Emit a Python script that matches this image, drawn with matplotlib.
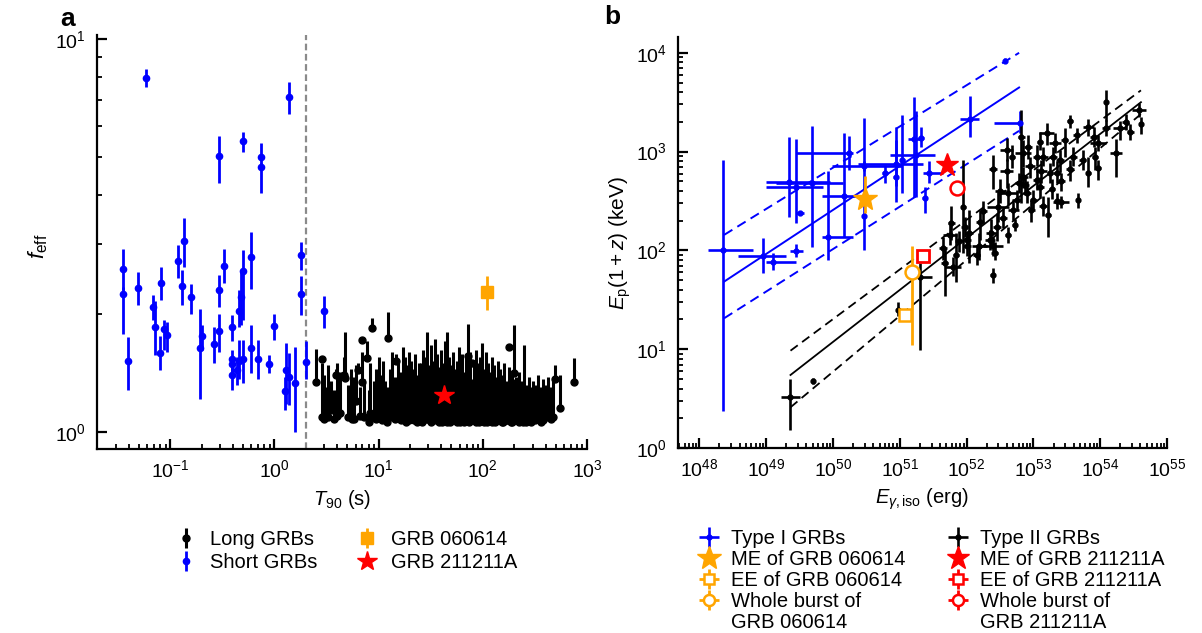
import numpy as np
import matplotlib
matplotlib.use('Agg')
import matplotlib.pyplot as plt
from matplotlib.lines import Line2D
from matplotlib.ticker import LogLocator, NullFormatter

plt.rcParams['font.family'] = ['Liberation Sans', 'DejaVu Sans']
plt.rcParams['mathtext.fontset'] = 'custom'
plt.rcParams['mathtext.rm'] = 'Liberation Sans'
plt.rcParams['mathtext.it'] = 'Liberation Sans:italic'
plt.rcParams['mathtext.bf'] = 'Liberation Sans:bold'

# ---------------- Panel a data ----------------
short_T = [0.0587, 1.39, 0.494, 0.294, 0.736, 0.75, 0.0355, 0.0355, 0.039, 0.049,
           0.068, 0.072, 0.079, 0.082, 0.088, 0.092, 0.118, 0.129, 0.136, 0.157,
           0.195, 0.203, 0.265, 0.296, 0.296, 0.326, 0.393, 0.393, 0.393, 0.393,
           0.44, 0.46, 0.48, 0.494, 0.46, 0.494, 0.59, 0.59, 0.69, 0.887,
           1.0, 1.25, 1.29, 1.39, 1.58, 1.78, 1.78, 2.0, 2.97]
short_f = [7.96, 7.11, 5.49, 5.04, 5.00, 4.73, 2.60, 2.24, 1.52, 2.33,
           2.08, 1.85, 1.59, 2.40, 1.83, 1.76, 2.72, 2.35, 3.06, 2.20,
           1.64, 1.75, 1.67, 2.30, 1.81, 2.65, 1.85, 1.53, 1.49, 1.40,
           1.44, 2.03, 2.20, 2.57, 1.52, 1.53, 2.78, 1.64, 1.53, 1.49,
           1.86, 1.27, 1.44, 1.38, 1.33, 2.82, 2.24, 1.51, 2.03]
short_lo = [7.55, 6.43, 5.15, 4.31, 4.73, 4.05, 2.30, 1.78, 1.28, 2.10,
            1.93, 1.57, 1.44, 2.17, 1.62, 1.60, 2.46, 2.11, 2.63, 2.00,
            1.21, 1.62, 1.50, 2.08, 1.60, 2.39, 1.70, 1.44, 1.41, 1.28,
            1.32, 1.85, 1.87, 1.93, 1.36, 1.33, 2.31, 1.41, 1.36, 1.41,
            1.71, 1.14, 1.18, 1.17, 1.00, 2.58, 1.99, 1.36, 1.84]
short_hi = [8.39, 7.79, 5.81, 5.67, 5.43, 4.83, 2.92, 2.34, 1.74, 2.56,
            2.23, 2.15, 1.75, 2.63, 1.93, 1.91, 2.99, 2.59, 3.50, 2.38,
            2.06, 1.87, 1.85, 2.51, 2.00, 2.92, 1.99, 1.62, 1.55, 1.50,
            1.55, 2.30, 2.58, 2.90, 1.71, 1.71, 3.23, 1.87, 1.71, 1.57,
            2.00, 1.38, 1.68, 1.59, 1.65, 3.05, 2.49, 1.70, 2.22]

long_T = [2.5, 2.85, 2.85, 3.0, 3.1, 3.3, 3.5, 3.7, 3.9, 4.0,
          4.3, 4.6, 4.8, 5.1, 5.4, 5.8, 6.1, 6.4, 6.9, 7.0,
          7.3, 7.8, 8.2, 8.7, 9.0, 9.5, 10.0, 10.5, 11.0, 11.5,
          12.2, 12.8, 13.5, 14.2, 14.8, 15.5, 16.3, 17.0, 17.8, 18.6,
          19.5, 20.4, 21.3, 22.3, 23.3, 24.4, 25.5, 26.6, 27.8, 29.0,
          30.3, 31.7, 33.1, 34.6, 36.1, 37.7, 39.4, 41.2, 43.0, 45.0,
          47.0, 49.1, 51.3, 53.6, 56.0, 58.5, 61.1, 63.8, 66.7, 69.6,
          72.7, 72.7, 76.0, 79.4, 82.9, 86.6, 90.5, 94.5, 98.7, 103,
          108, 113, 118, 123, 129, 134, 140, 147, 153, 160,
          167, 177, 180, 190, 201, 210, 222, 235, 250, 262,
          275, 290, 305, 320, 342, 360, 380, 400, 427, 450,
          470, 495, 553, 754,
          14.5, 16.0, 18.2, 20.0, 22.0, 24.0, 26.0, 28.5, 31.0, 33.8,
          35.4, 38.5, 40.3, 44.0, 48.0, 50.2, 52.4, 55.0, 57.3, 60.0,
          65.2, 68.0, 71.0, 74.3, 77.7, 81.0, 84.7, 88.5, 92.5, 96.6,
          105, 110, 115, 121, 126, 131, 137, 143, 150, 157,
          163, 172, 185, 195, 205, 215, 228, 242, 256, 268,
          5.6, 6.6, 8.0, 9.3, 10.8, 12.0]
long_f = [1.34, 1.53, 1.09, 1.08, 1.12, 1.09, 1.14, 1.08, 1.40, 1.10,
          1.12, 1.40, 1.37, 1.09, 1.11, 1.08, 1.20, 1.44, 1.71, 1.34,
          1.09, 1.54, 1.12, 1.84, 1.10, 1.08, 1.12, 1.09, 1.11, 1.10,
          1.73, 1.09, 1.12, 1.08, 1.52, 1.10, 1.07, 1.11, 1.09, 1.13,
          1.07, 1.10, 1.08, 1.12, 1.06, 1.09, 1.10, 1.07, 1.12, 1.08,
          1.10, 1.06, 1.11, 1.08, 1.09, 1.06, 1.12, 1.07, 1.09, 1.06,
          1.10, 1.07, 1.11, 1.08, 1.06, 1.10, 1.07, 1.09, 1.06, 1.11,
          1.08, 1.56, 1.07, 1.50, 1.09, 1.06, 1.10, 1.07, 1.08, 1.06,
          1.10, 1.07, 1.09, 1.06, 1.08, 1.11, 1.07, 1.09, 1.06, 1.08,
          1.07, 1.65, 1.09, 1.06, 1.41, 1.08, 1.06, 1.09, 1.07, 1.06,
          1.08, 1.06, 1.09, 1.07, 1.08, 1.06, 1.07, 1.09, 1.10, 1.08,
          1.09, 1.36, 1.15, 1.34,
          1.10, 1.08, 1.06, 1.09, 1.07, 1.10, 1.06, 1.09, 1.07, 1.10,
          1.07, 1.09, 1.06, 1.08, 1.06, 1.09, 1.07, 1.10, 1.08, 1.06,
          1.09, 1.07, 1.10, 1.06, 1.08, 1.10, 1.07, 1.09, 1.06, 1.10,
          1.08, 1.06, 1.10, 1.07, 1.09, 1.06, 1.10, 1.07, 1.08, 1.06,
          1.09, 1.07, 1.06, 1.09, 1.07, 1.10, 1.08, 1.06, 1.08, 1.07,
          1.08, 1.10, 1.06, 1.09, 1.07, 1.06]
long_top = [1.63, 1.53, 1.50, 1.40, 1.30, 1.48, 1.35, 1.28, 1.45, 1.50,
            1.42, 1.55, 1.80, 1.32, 1.45, 1.38, 1.48, 1.50, 1.73, 1.60,
            1.36, 1.70, 1.50, 1.95, 1.35, 1.45, 1.55, 1.40, 1.52, 1.35,
            2.02, 1.45, 1.60, 1.38, 1.58, 1.50, 1.42, 1.65, 1.55, 1.48,
            1.60, 1.52, 1.45, 1.58, 1.40, 1.50, 1.50, 1.62, 1.55, 1.80,
            1.48, 1.66, 1.52, 1.72, 1.58, 1.46, 1.62, 1.50, 1.70, 1.80,
            1.55, 1.48, 1.60, 1.45, 1.52, 1.65, 1.50, 1.58, 1.42, 1.55,
            1.88, 1.56, 1.60, 1.52, 1.48, 1.62, 1.50, 1.55, 1.68, 1.45,
            1.60, 1.50, 1.42, 1.55, 1.48, 1.38, 1.52, 1.45, 1.40, 1.50,
            1.35, 1.65, 1.46, 1.40, 1.87, 1.38, 1.42, 1.35, 1.66, 1.32,
            1.38, 1.30, 1.35, 1.32, 1.40, 1.30, 1.36, 1.32, 1.38, 1.30,
            1.35, 1.48, 1.40, 1.54,
            1.30, 1.25, 1.35, 1.28, 1.32, 1.30, 1.27, 1.33, 1.36, 1.28,
            1.34, 1.30, 1.38, 1.32, 1.28, 1.36, 1.30, 1.34, 1.40, 1.30,
            1.32, 1.38, 1.30, 1.34, 1.28, 1.36, 1.30, 1.40, 1.33, 1.30,
            1.36, 1.30, 1.34, 1.28, 1.32, 1.36, 1.30, 1.34, 1.28, 1.32,
            1.30, 1.34, 1.28, 1.32, 1.36, 1.30, 1.26, 1.32, 1.30, 1.28,
            1.25, 1.30, 1.28, 1.32, 1.26, 1.30]

grb060614_T, grb060614_f, grb060614_lo, grb060614_hi = 108.7, 2.27, 2.04, 2.50
grb211211_T, grb211211_f = 42.8, 1.24
T90_divide = 2.0

# ---------------- Panel b data (log10 values) ----------------
t1_logE = [48.355, 48.945, 49.10, 49.44, 49.50, 49.34, 49.45, 49.69, 49.93, 50.16,
           50.24, 50.47, 50.47, 50.78, 50.94, 50.95, 51.04, 51.21, 51.25, 51.32,
           51.37, 51.44, 52.05, 52.80, 52.57]
t1_logEp = [2.00, 1.944, 1.887, 1.995, 2.383, 2.697, 2.646, 2.687, 2.14, 2.552,
            2.984, 2.856, 2.35, 2.788, 2.741, 2.876, 2.917, 3.126, 2.967, 3.136,
            2.529, 2.788, 3.33, 3.288, 3.92]
t1_logE_lo = [48.13, 48.58, 49.00, 49.35, 49.45, 49.00, 49.00, 49.15, 49.83, 49.83,
              49.45, 49.98, 50.44, 50.74, 50.90, 50.38, 51.00, 51.12, 50.85, 51.28,
              51.33, 51.35, 51.90, 52.41, 52.55]
t1_logE_hi = [48.80, 49.30, 49.45, 49.55, 49.57, 49.95, 49.85, 50.15, 50.30, 50.45,
              50.30, 51.03, 50.50, 50.82, 50.98, 51.35, 51.08, 51.33, 51.52, 51.36,
              51.41, 51.65, 52.19, 52.80, 52.59]
t1_logEp_lo = [0.378, 1.769, 1.80, 1.937, 2.36, 2.342, 2.28, 2.03, 1.90, 2.14,
               2.815, 2.80, 2.005, 2.68, 2.49, 2.65, 2.58, 2.545, 2.545, 3.05,
               2.377, 2.68, 3.15, 3.19, 3.90]
t1_logEp_hi = [2.916, 2.124, 1.975, 2.066, 2.40, 3.152, 3.126, 3.26, 2.80, 3.193,
               3.16, 2.90, 3.34, 2.866, 3.25, 3.12, 3.37, 3.55, 3.406, 3.25,
               2.646, 2.90, 3.56, 3.41, 3.95]

t2_logE = [54.09, 54.58, 54.61, 54.29, 54.23, 54.09, 53.97, 53.92, 53.97, 53.82,
           53.82, 53.74, 53.65, 53.67, 53.55, 53.47, 53.40, 53.32, 53.35, 53.42,
           53.42, 53.20, 53.22, 53.15, 53.25, 53.05, 53.00, 52.97, 53.10, 52.85,
           52.85, 52.90, 52.82, 52.75, 52.70, 52.60, 52.62, 52.47, 52.45, 52.72,
           52.62, 52.37, 52.35, 52.39, 52.42, 52.39, 52.20, 52.19, 52.04, 52.01,
           51.95, 51.97, 52.00, 51.84, 51.77, 51.75, 51.80, 51.67, 51.31, 50.97,
           49.70, 49.36, 52.95, 53.05, 52.88, 53.12, 52.78, 53.28, 53.55, 53.60,
           53.30, 52.92, 52.68, 52.50, 52.25, 51.88, 51.64, 52.15, 52.55, 53.35,
           53.15, 53.90, 54.38, 54.45, 53.10, 52.60, 52.40]
t2_logEp = [3.507, 3.42, 3.28, 3.24, 2.99, 3.24, 3.085, 2.95, 2.83, 3.254,
            2.78, 2.916, 3.17, 2.51, 3.314, 3.12, 2.916, 3.085, 2.78, 2.70,
            2.494, 3.187, 2.36, 2.95, 2.78, 2.71, 2.51, 2.41, 2.646, 2.984,
            2.747, 2.58, 3.15, 2.51, 2.41, 2.80, 2.58, 2.44, 2.24, 2.26,
            2.157, 2.174, 2.106, 2.04, 1.97, 1.75, 2.29, 2.04, 2.174, 2.04,
            2.44, 2.24, 2.106, 1.955, 2.276, 2.157, 1.836, 1.87, 1.735, 1.40,
            0.68, 0.52, 2.85, 2.95, 2.66, 2.80, 2.68, 2.62, 2.82, 2.95,
            2.95, 3.05, 2.95, 2.60, 2.40, 2.10, 2.02, 1.95, 2.33, 2.50,
            2.45, 3.15, 3.30, 3.20, 3.10, 3.02, 2.82]
t2_dlogE = [0.00, 0.10, 0.00, 0.10, 0.09, 0.06, 0.12, 0.04, 0.04, 0.08,
            0.04, 0.05, 0.05, 0.02, 0.05, 0.05, 0.06, 0.09, 0.06, 0.05,
            0.12, 0.11, 0.04, 0.07, 0.05, 0.06, 0.05, 0.05, 0.06, 0.12,
            0.07, 0.06, 0.05, 0.07, 0.08, 0.10, 0.14, 0.16, 0.06, 0.04,
            0.05, 0.08, 0.08, 0.15, 0.05, 0.04, 0.06, 0.11, 0.06, 0.06,
            0.04, 0.05, 0.06, 0.05, 0.05, 0.11, 0.12, 0.05, 0.17, 0.03,
            0.00, 0.14, 0.08, 0.06, 0.05, 0.08, 0.06, 0.05, 0.06, 0.05,
            0.06, 0.06, 0.05, 0.08, 0.05, 0.05, 0.06, 0.05, 0.06, 0.04,
            0.06, 0.05, 0.05, 0.05, 0.05, 0.10, 0.06]
t2_dlogEp_lo = [0.20, 0.07, 0.10, 0.12, 0.25, 0.08, 0.08, 0.14, 0.12, 0.10,
                0.14, 0.10, 0.08, 0.08, 0.08, 0.17, 0.12, 0.10, 0.10, 0.10,
                0.06, 0.12, 0.22, 0.10, 0.10, 0.10, 0.10, 0.12, 0.12, 0.14,
                0.12, 0.10, 0.67, 0.10, 0.10, 0.17, 0.12, 0.15, 0.14, 0.06,
                0.08, 0.14, 0.10, 0.10, 0.07, 0.08, 0.18, 0.14, 0.30, 0.10,
                0.47, 0.10, 0.08, 0.27, 0.17, 0.10, 0.10, 0.33, 0.745, 0.06,
                0.03, 0.34, 0.12, 0.10, 0.10, 0.12, 0.10, 0.10, 0.12, 0.10,
                0.10, 0.12, 0.12, 0.12, 0.12, 0.12, 0.12, 0.10, 0.10, 0.08,
                0.10, 0.10, 0.08, 0.08, 0.08, 0.12, 0.20]
t2_dlogEp_hi = [0.12, 0.07, 0.07, 0.07, 0.14, 0.08, 0.08, 0.10, 0.08, 0.08,
                0.17, 0.10, 0.07, 0.07, 0.06, 0.12, 0.10, 0.10, 0.12, 0.08,
                0.06, 0.10, 0.18, 0.10, 0.10, 0.12, 0.10, 0.10, 0.10, 0.13,
                0.10, 0.12, 0.27, 0.10, 0.10, 0.13, 0.10, 0.15, 0.14, 0.06,
                0.08, 0.14, 0.10, 0.10, 0.12, 0.07, 0.12, 0.14, 0.24, 0.10,
                0.47, 0.10, 0.08, 0.22, 0.17, 0.10, 0.10, 0.15, 0.135, 0.08,
                0.03, 0.18, 0.10, 0.12, 0.10, 0.12, 0.10, 0.10, 0.10, 0.10,
                0.10, 0.12, 0.12, 0.12, 0.10, 0.10, 0.12, 0.10, 0.10, 0.08,
                0.10, 0.10, 0.08, 0.08, 0.10, 0.12, 0.15]

# fitted correlations (log10 E_iso, log10 Ep) at line ends
fit1_logE = [48.37, 52.786]
fit1_mid = [1.684, 3.649]
fit1_up = [2.157, 4.00]
fit1_dn = [1.313, 3.21]
fit2_logE = [49.364, 54.61]
fit2_mid = [0.739, 3.50]
fit2_up = [0.985, 3.62]
fit2_dn = [0.412, 3.38]

# GRB 060614 (orange) and GRB 211211A (red): log E, log Ep
me060614 = (50.475, 2.518, 2.377, 2.754)
ee060614 = (51.075, 1.347, 51.19)
wb060614 = (51.19, 1.785, 1.043, 2.045)
me211211 = (51.71, 2.866)
ee211211 = (51.35, 1.944)
wb211211 = (51.86, 2.63)

BLUE = '#0000ff'
ORANGE = '#ffa500'
RED = '#ff0000'

W, H = 1202, 633
fig = plt.figure(figsize=(W / 100, H / 100), dpi=100)


def px_axes(l, r, t, b):
    return [l / W, 1 - b / H, (r - l) / W, (b - t) / H]


def style_axes(ax):
    for s in ['top', 'right']:
        ax.spines[s].set_visible(False)
    for s in ['left', 'bottom']:
        ax.spines[s].set_linewidth(1.6)
    ax.tick_params(which='major', direction='in', length=7, width=1.6,
                   labelsize=14, pad=8)
    ax.tick_params(which='minor', direction='in', length=3.5, width=1.3)
    ax.tick_params(axis='x', which='major', pad=7)


# ---------------- Panel a ----------------
ax1 = fig.add_axes(px_axes(97, 587, 35, 449))
ax1.set_xscale('log')
ax1.set_yscale('log')

sT = np.array(short_T); sf = np.array(short_f)
h_short = ax1.errorbar(sT, sf, yerr=[sf - np.array(short_lo), np.array(short_hi) - sf],
                       fmt='o', color=BLUE, ms=4.5, elinewidth=2, capsize=0, zorder=3)
lT = np.array(long_T); lf = np.array(long_f); lt = np.array(long_top)
h_long = ax1.errorbar(lT, lf, yerr=[np.zeros_like(lf), np.maximum(lt - lf, 0)],
                      fmt='o', color='black', ms=5, elinewidth=2.2, capsize=0, zorder=3)
ax1.axvline(T90_divide, color='#8a8a8a', lw=1.6, ls='--', dashes=(3, 1.6), zorder=2)
h_o = ax1.errorbar([grb060614_T], [grb060614_f],
                   yerr=[[grb060614_f - grb060614_lo], [grb060614_hi - grb060614_f]],
                   fmt='s', color=ORANGE, ms=8, elinewidth=2, capsize=0, zorder=4)
h_r, = ax1.plot([grb211211_T], [grb211211_f], marker='*', color=RED, ms=15,
                ls='none', zorder=5)

ax1.set_xlim(0.0198, 1000)
ax1.set_ylim(0.905, 10.24)
ax1.xaxis.set_major_locator(LogLocator(base=10, numticks=20))
ax1.xaxis.set_minor_locator(LogLocator(base=10, subs=np.arange(2, 10), numticks=40))
ax1.xaxis.set_minor_formatter(NullFormatter())
ax1.yaxis.set_major_locator(LogLocator(base=10, numticks=20))
ax1.yaxis.set_minor_locator(LogLocator(base=10, subs=np.arange(2, 10), numticks=40))
ax1.yaxis.set_minor_formatter(NullFormatter())
style_axes(ax1)
ax1.set_xlabel(r'$T_{90}$ (s)', fontsize=14.5)
ax1.set_ylabel(r'$f_{\mathrm{eff}}$', fontsize=16)
ax1.xaxis.set_label_coords((342 - 97) / 490, (449 - 488) / 414)
ax1.yaxis.set_label_coords((50 - 97) / 490, 0.49)

leg1 = fig.legend([h_long, h_short, h_o, h_r],
                  ['Long GRBs', 'Short GRBs', 'GRB 060614', 'GRB 211211A'],
                  ncol=2, loc='upper left', bbox_to_anchor=(176 / W, 1 - 530 / H),
                  frameon=False, fontsize=14.5, handlelength=1.0, handletextpad=0.7,
                  columnspacing=1.95, labelspacing=0.22, borderpad=0, borderaxespad=0)

# ---------------- Panel b ----------------
ax2 = fig.add_axes(px_axes(678, 1167, 37, 448))
ax2.set_xscale('log')
ax2.set_yscale('log')

E1 = 10 ** np.array(t1_logE); P1 = 10 ** np.array(t1_logEp)
h_t1 = ax2.errorbar(E1, P1,
                    xerr=[E1 - 10 ** np.array(t1_logE_lo), 10 ** np.array(t1_logE_hi) - E1],
                    yerr=[P1 - 10 ** np.array(t1_logEp_lo), 10 ** np.array(t1_logEp_hi) - P1],
                    fmt='o', color=BLUE, ms=3.5, elinewidth=1.9, capsize=0, zorder=3)
E2 = 10 ** np.array(t2_logE); P2 = 10 ** np.array(t2_logEp)
dE = np.array(t2_dlogE); dlo = np.array(t2_dlogEp_lo); dhi = np.array(t2_dlogEp_hi)
h_t2 = ax2.errorbar(E2, P2,
                    xerr=[E2 - E2 * 10 ** (-dE), E2 * 10 ** dE - E2],
                    yerr=[P2 - P2 * 10 ** (-dlo), P2 * 10 ** dhi - P2],
                    fmt='o', color='black', ms=3.5, elinewidth=1.9, capsize=0, zorder=3)

fx1 = 10 ** np.array(fit1_logE)
ax2.plot(fx1, 10 ** np.array(fit1_mid), color=BLUE, lw=1.4, zorder=2)
ax2.plot(fx1, 10 ** np.array(fit1_up), color=BLUE, lw=1.4, ls='--', dashes=(5, 3), zorder=2)
ax2.plot(fx1, 10 ** np.array(fit1_dn), color=BLUE, lw=1.4, ls='--', dashes=(5, 3), zorder=2)
fx2 = 10 ** np.array(fit2_logE)
ax2.plot(fx2, 10 ** np.array(fit2_mid), color='black', lw=1.3, zorder=2)
ax2.plot(fx2, 10 ** np.array(fit2_up), color='black', lw=1.3, ls='--', dashes=(5, 3), zorder=2)
ax2.plot(fx2, 10 ** np.array(fit2_dn), color='black', lw=1.3, ls='--', dashes=(5, 3), zorder=2)

# GRB 060614
x, y, ylo, yhi = me060614
ax2.errorbar([10 ** x], [10 ** y], yerr=[[10 ** y - 10 ** ylo], [10 ** yhi - 10 ** y]],
             fmt='none', ecolor=ORANGE, elinewidth=2, capsize=0, zorder=4)
h_me1, = ax2.plot([10 ** x], [10 ** y], marker='*', color=ORANGE, ms=18, ls='none', zorder=5)
x, y, ylo, yhi = wb060614
ax2.errorbar([10 ** x], [10 ** y], yerr=[[10 ** y - 10 ** ylo], [10 ** yhi - 10 ** y]],
             fmt='none', ecolor=ORANGE, elinewidth=2, capsize=0, zorder=4)
ax2.plot([10 ** x], [10 ** y], marker='o', mfc='white', mec=ORANGE, mew=1.8, ms=10,
         ls='none', zorder=6)
x, y, xhi = ee060614
ax2.errorbar([10 ** x], [10 ** y], xerr=[[0], [10 ** xhi - 10 ** x]],
             fmt='s', mfc='white', mec=ORANGE, ecolor=ORANGE, mew=1.8, ms=8,
             elinewidth=2, capsize=0, zorder=5)
# GRB 211211A
x, y = me211211
h_me2, = ax2.plot([10 ** x], [10 ** y], marker='*', color=RED, ms=17, ls='none', zorder=5)
x, y = ee211211
ax2.plot([10 ** x], [10 ** y], marker='s', mfc='white', mec=RED, mew=2, ms=8,
         ls='none', zorder=5)
x, y = wb211211
ax2.plot([10 ** x], [10 ** y], marker='o', mfc='white', mec=RED, mew=1.8, ms=10,
         ls='none', zorder=5)

# legend-only handles (placed outside the visible range)
h_ee1 = ax2.errorbar([1e40], [1e-3], xerr=[[5e39], [5e39]], yerr=[[5e-4], [5e-4]],
                     fmt='s', mfc='white', mec=ORANGE, ecolor=ORANGE, mew=1.8, ms=7,
                     elinewidth=2, capsize=0)
h_wb1 = ax2.errorbar([1e40], [1e-3], xerr=[[5e39], [5e39]], yerr=[[5e-4], [5e-4]],
                     fmt='o', mfc='white', mec=ORANGE, ecolor=ORANGE, mew=1.8, ms=8,
                     elinewidth=2, capsize=0)
h_ee2 = ax2.errorbar([1e40], [1e-3], xerr=[[5e39], [5e39]], yerr=[[5e-4], [5e-4]],
                     fmt='s', mfc='white', mec=RED, ecolor=RED, mew=1.8, ms=7,
                     elinewidth=2, capsize=0)
h_wb2 = ax2.errorbar([1e40], [1e-3], xerr=[[5e39], [5e39]], yerr=[[5e-4], [5e-4]],
                     fmt='o', mfc='white', mec=RED, ecolor=RED, mew=1.8, ms=8,
                     elinewidth=2, capsize=0)
h_blank = Line2D([], [], ls='none')

ax2.set_xlim(10 ** 47.68, 1e55)
ax2.set_ylim(1, 10 ** 4.16)
ax2.xaxis.set_major_locator(LogLocator(base=10, numticks=30))
ax2.xaxis.set_minor_locator(LogLocator(base=10, subs=np.arange(2, 10), numticks=80))
ax2.xaxis.set_minor_formatter(NullFormatter())
ax2.yaxis.set_major_locator(LogLocator(base=10, numticks=20))
ax2.yaxis.set_minor_locator(LogLocator(base=10, subs=np.arange(2, 10), numticks=40))
ax2.yaxis.set_minor_formatter(NullFormatter())
style_axes(ax2)
ax2.set_xlabel(r'$E_{\gamma,\mathrm{iso}}$ (erg)', fontsize=14.5)
ax2.set_ylabel(r'$E_{\mathrm{p}}(1 + z)$ (keV)', fontsize=15)
ax2.xaxis.set_label_coords((922 - 678) / 489, (448 - 487) / 411)
ax2.yaxis.set_label_coords((633 - 678) / 489, 0.5)

handles2 = [h_t1, h_me1, h_ee1, h_wb1, h_blank, h_t2, h_me2, h_ee2, h_wb2, h_blank]
labels2 = ['Type I GRBs', 'ME of GRB 060614', 'EE of GRB 060614', 'Whole burst of',
           'GRB 060614', 'Type II GRBs', 'ME of GRB 211211A', 'EE of GRB 211211A',
           'Whole burst of', 'GRB 211211A']
leg2 = fig.legend(handles2, labels2, ncol=2, loc='upper left',
                  bbox_to_anchor=(697 / W, 1 - 529 / H), frameon=False, fontsize=14.5,
                  handlelength=1.2, handletextpad=0.5, columnspacing=2.0,
                  labelspacing=0.1, borderpad=0, borderaxespad=0)

fig.text(68 / W, 1 - 19 / H, 'a', fontsize=19, fontweight='bold', ha='center', va='center')
fig.text(612 / W, 1 - 17 / H, 'b', fontsize=19, fontweight='bold', ha='center', va='center')

fig.savefig('out.png', dpi=100)
